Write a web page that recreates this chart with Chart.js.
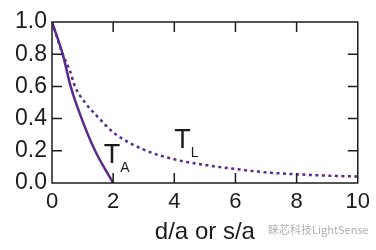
<!DOCTYPE html>
<html>
<head>
<meta charset="utf-8">
<script src="https://cdn.jsdelivr.net/npm/chart.js@4.4.1/dist/chart.umd.min.js"></script>
<style>
    html, body { margin: 0; padding: 0; background: #fff; }
    #wrap { position: relative; width: 376px; height: 250px; }
</style>
</head>
<body>
<div id="wrap"><canvas id="chart" width="376" height="250"></canvas></div>
<script>
// T_A curve (solid)
var taX = [0, 0.35, 0.61, 0.97, 1.41, 2.0];
var taY = [1.0, 0.8, 0.6, 0.4, 0.2, 0.0];

// T_L curve (dotted)
var tlX = [0, 0.35, 0.6, 0.75, 1.08, 1.55, 2.0, 3.0, 4.0, 5.0, 6.0, 7.0, 8.0, 9.0, 10.0];
var tlY = [1.0, 0.8, 0.69, 0.6, 0.5, 0.4, 0.315, 0.207, 0.147, 0.112, 0.087, 0.066, 0.054, 0.046, 0.04];

var xTicks = [0, 2, 4, 6, 8, 10];
var yTicks = [0, 0.2, 0.4, 0.6, 0.8, 1.0];

var purple = '#5a2b8c';
var ink = '#1c1c1c';

function toPoints(xs, ys) {
    return xs.map(function (x, i) { return { x: x, y: ys[i] }; });
}

// inward ticks on all four sides + curve labels
var framePlugin = {
    id: 'frame',
    afterDraw: function (chart) {
        var ctx = chart.ctx;
        var a = chart.chartArea;
        var xs = chart.scales.x;
        var ys = chart.scales.y;
        var len = 10;
        ctx.save();
        ctx.strokeStyle = ink;
        ctx.lineWidth = 1.5;
        ctx.strokeRect(a.left, a.top, a.right - a.left, a.bottom - a.top);
        ctx.beginPath();
        xTicks.slice(1, -1).forEach(function (v) {
            var px = xs.getPixelForValue(v);
            ctx.moveTo(px, a.bottom); ctx.lineTo(px, a.bottom - len);
            ctx.moveTo(px, a.top); ctx.lineTo(px, a.top + len);
        });
        yTicks.slice(1, -1).forEach(function (v) {
            var py = ys.getPixelForValue(v);
            ctx.moveTo(a.left, py); ctx.lineTo(a.left + len, py);
            ctx.moveTo(a.right, py); ctx.lineTo(a.right - len, py);
        });
        ctx.stroke();

        ctx.fillStyle = ink;
        ctx.textBaseline = 'alphabetic';
        drawLabel(ctx, 'A', xs.getPixelForValue(1.69), ys.getPixelForValue(0.122));
        drawLabel(ctx, 'L', xs.getPixelForValue(4.0), ys.getPixelForValue(0.215));

        // watermark text
        ctx.fillStyle = '#b0b0b0';
        ctx.font = '11px "Noto Sans CJK SC", "Noto Sans"';
        ctx.textAlign = 'left';
        ctx.fillText('睐芯科技LightSense', 268, 234);
        ctx.restore();
    }
};

function drawLabel(ctx, sub, x, y) {
    ctx.textAlign = 'left';
    ctx.font = '27px "Liberation Sans", Arial';
    ctx.fillText('T', x, y);
    var w = ctx.measureText('T').width;
    ctx.font = '14px "Liberation Sans", Arial';
    ctx.fillText(sub, x + w, y + 9);
}

var ctx = document.getElementById('chart').getContext('2d');
var chart = new Chart(ctx, {
    type: 'scatter',
    data: {
        datasets: [
            {
                label: 'TA',
                data: toPoints(taX, taY),
                showLine: true,
                borderColor: purple,
                borderWidth: 2.5,
                pointRadius: 0,
                cubicInterpolationMode: 'monotone'
            },
            {
                label: 'TL',
                data: toPoints(tlX, tlY),
                showLine: true,
                borderColor: purple,
                borderWidth: 2.5,
                borderDash: [3, 3.5],
                pointRadius: 0,
                cubicInterpolationMode: 'monotone'
            }
        ]
    },
    options: {
        responsive: false,
        animation: false,
        layout: { padding: { top: 22, right: 17, left: 0, bottom: 3 } },
        scales: {
            x: {
                type: 'linear',
                min: 0,
                max: 10,
                afterBuildTicks: function (s) { s.ticks = xTicks.map(function (v) { return { value: v }; }); },
                afterFit: function (s) { s.height = 64; },
                ticks: { color: ink, font: { size: 22, family: '"Liberation Sans", Arial' }, padding: 6, maxRotation: 0 },
                grid: { display: false, drawTicks: false },
                border: { display: false },
                title: {
                    display: true,
                    text: 'd/a or s/a',
                    color: ink,
                    font: { size: 24, family: '"Liberation Sans", Arial' },
                    padding: { top: 6, bottom: 0 }
                }
            },
            y: {
                type: 'linear',
                min: 0,
                max: 1,
                afterBuildTicks: function (s) { s.ticks = yTicks.map(function (v) { return { value: v }; }); },
                afterFit: function (s) { s.width = 52; },
                ticks: {
                    color: ink,
                    font: { size: 23, family: '"Liberation Sans", Arial' },
                    padding: 5,
                    callback: function (v) { return v.toFixed(1); }
                },
                grid: { display: false, drawTicks: false },
                border: { display: false }
            }
        },
        plugins: {
            legend: { display: false },
            tooltip: { enabled: false }
        }
    },
    plugins: [framePlugin]
});
</script>
</body>
</html>
